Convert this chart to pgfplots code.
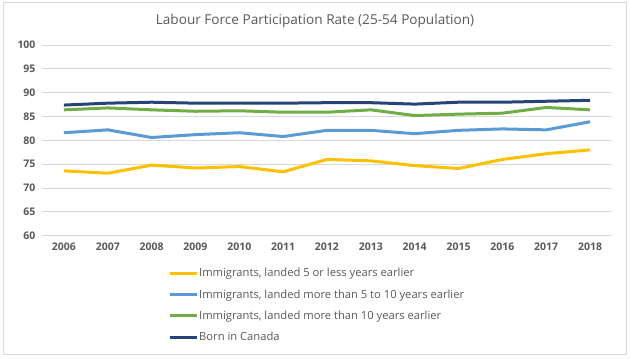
\documentclass[border=0pt]{standalone}
\usepackage{pgfplots}
\pgfplotsset{compat=1.18}
\usepackage{fontspec}
\setmainfont{Open Sans}
\definecolor{txt}{HTML}{595959}
\definecolor{grd}{HTML}{D9D9D9}
\definecolor{cYel}{HTML}{FFC000}
\definecolor{cBlu}{HTML}{5B9BD5}
\definecolor{cGrn}{HTML}{70AD47}
\definecolor{cNav}{HTML}{264478}
\begin{document}
\begin{tikzpicture}[x=1bp,y=1bp]
\useasboundingbox (0,0) rectangle (630,358);
\draw[grd, line width=1bp] (3,4) rectangle (626,355);
\node[txt, font=\fontsize{13.6bp}{15bp}\selectfont] at (315,337.5) {Labour Force Participation Rate (25-54 Population)};
\begin{axis}[
  at={(42bp,122.3bp)}, anchor=south west,
  scale only axis, width=570bp, height=190.7bp,
  xmin=2005.5, xmax=2018.5, ymin=60, ymax=100,
  xtick={2006,...,2018}, ytick={60,65,...,100},
  /pgf/number format/assume math mode=true,
  xticklabel style={/pgf/number format/1000 sep={}},
  ticklabel style={txt, font=\fontsize{10.5bp}{13bp}\selectfont\bfseries},
  xticklabel style={yshift=-4bp},
  yticklabel style={xshift=-3bp},
  axis line style={draw=none}, tick style={draw=none},
  ymajorgrids, grid style={grd, line width=1bp},
  every axis plot/.append style={line width=3bp, line join=round},
  legend style={draw=none, fill=none, at={(0.221,-0.165)}, anchor=north west,
    font=\fontsize{11.2bp}{13bp}\selectfont, text=txt, row sep=9.3bp, inner sep=0pt,
    nodes={inner sep=1bp}},
  legend cell align=left,
  legend image code/.code={\draw[#1] (0bp,0bp) -- (27bp,0bp);},
]
\addplot[cYel] coordinates {(2006,73.6)(2007,73.1)(2008,74.8)(2009,74.2)(2010,74.5)(2011,73.4)(2012,76.0)(2013,75.7)(2014,74.7)(2015,74.1)(2016,76.0)(2017,77.2)(2018,78.0)};
\addlegendentry{Immigrants, landed 5 or less years earlier}
\addplot[cBlu] coordinates {(2006,81.6)(2007,82.2)(2008,80.6)(2009,81.2)(2010,81.6)(2011,80.8)(2012,82.1)(2013,82.1)(2014,81.4)(2015,82.1)(2016,82.4)(2017,82.2)(2018,83.9)};
\addlegendentry{Immigrants, landed more than 5 to 10 years earlier}
\addplot[cGrn] coordinates {(2006,86.4)(2007,86.8)(2008,86.4)(2009,86.1)(2010,86.2)(2011,85.9)(2012,85.9)(2013,86.4)(2014,85.2)(2015,85.5)(2016,85.7)(2017,86.9)(2018,86.4)};
\addlegendentry{Immigrants, landed more than 10 years earlier}
\addplot[cNav] coordinates {(2006,87.4)(2007,87.8)(2008,88.0)(2009,87.8)(2010,87.8)(2011,87.8)(2012,87.9)(2013,87.9)(2014,87.6)(2015,88.0)(2016,88.0)(2017,88.2)(2018,88.4)};
\addlegendentry{Born in Canada}
\end{axis}
\end{tikzpicture}
\end{document}
